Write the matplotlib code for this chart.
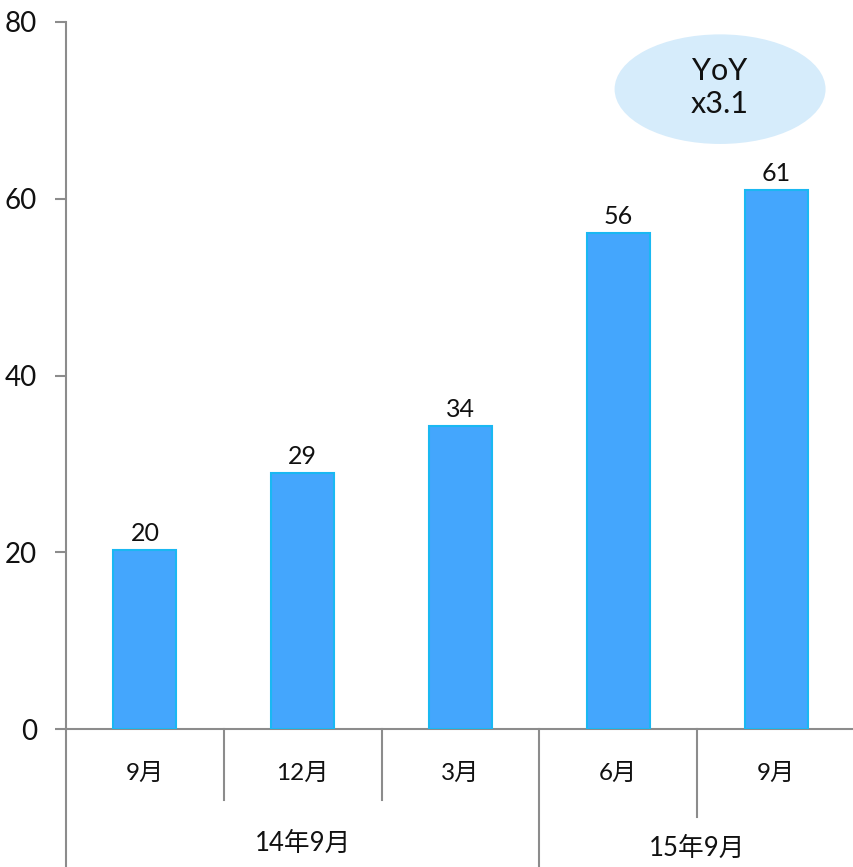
import matplotlib
matplotlib.use("Agg")
import matplotlib.pyplot as plt
from matplotlib.patches import Ellipse
import matplotlib.transforms as mtransforms

plt.rcParams['font.family'] = ['Lato', 'Noto Sans CJK JP', 'DejaVu Sans']

# ---- data ----
months = ["9月", "12月", "3月", "6月", "9月"]
values = [20.2, 29.0, 34.3, 56.1, 61.0]
value_labels = ["20", "29", "34", "56", "61"]
groups = ["14年9月", "15年9月"]
group_centers = [1.0, 3.5]
yticks = [0, 20, 40, 60, 80]
yoy_text = "YoY\nx3.1"

bar_color = "#44a6fd"
edge_color = "#1ab8f2"
axis_color = "#8c8c8c"
ellipse_color = "#d6ecfb"

W, H = 854, 867
fig = plt.figure(figsize=(W / 100, H / 100), dpi=100)
left, right = 66 / W, 855 / W
bottom, top = (H - 729) / H, (H - 22) / H
ax = fig.add_axes([left, bottom, right - left, top - bottom])

x = list(range(len(values)))
ax.bar(x, values, width=0.4, color=bar_color, edgecolor=edge_color, linewidth=1.5, zorder=3)

for xi, v, lab in zip(x, values, value_labels):
    ax.annotate(lab, (xi, v), xytext=(0, 6.5), textcoords="offset points",
                ha="center", va="baseline", fontsize=18, color="#111111")

ax.set_xlim(-0.5, 4.5)
ax.set_ylim(0, 80)
ax.set_yticks(yticks)
ax.set_yticklabels([str(t) for t in yticks], fontsize=20, color="#111111")
ax.tick_params(axis="y", length=8, width=1.5, color=axis_color, pad=13)
ax.set_xticks([])

for s in ["top", "right"]:
    ax.spines[s].set_visible(False)
for s in ["left", "bottom"]:
    ax.spines[s].set_color(axis_color)
    ax.spines[s].set_linewidth(1.5)

# extended category axis
axh = 707.0
def yfrac(pix_below):
    return -pix_below / axh

trans = mtransforms.blended_transform_factory(ax.transData, ax.transAxes)
# left axis extension to figure bottom
ax.plot([-0.5, -0.5], [0, yfrac(140)], transform=trans, color=axis_color, lw=1.5, clip_on=False)
sep_lengths = {0.5: 71, 1.5: 71, 2.5: 140, 3.5: 88}
for sx, L in sep_lengths.items():
    ax.plot([sx, sx], [0, yfrac(L)], transform=trans, color=axis_color, lw=1.5, clip_on=False)

for xi, m in zip(x, months):
    ax.text(xi, yfrac(44), m, transform=trans, ha="center", va="center", fontsize=17.5, color="#111111")
ax.text(group_centers[0], yfrac(114), groups[0], transform=trans, ha="center", va="center",
        fontsize=18.5, color="#111111")
ax.text(group_centers[1], yfrac(119), groups[1], transform=trans, ha="center", va="center",
        fontsize=18.5, color="#111111")

# YoY ellipse
ell = Ellipse((3.645, 72.4), width=1.337, height=12.4, facecolor=ellipse_color, edgecolor="none",
              zorder=2, clip_on=False)
ax.add_patch(ell)
ax.text(3.645, 72.6, yoy_text, ha="center", va="center", fontsize=22, color="#111111",
        linespacing=1.2, zorder=4)

fig.savefig("out.png", dpi=100)
